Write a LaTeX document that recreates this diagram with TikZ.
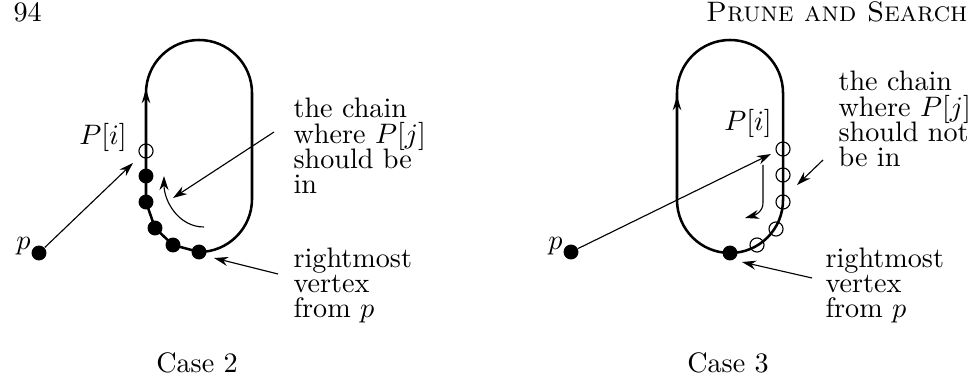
\documentclass[tikz,border=0pt]{standalone}
\usetikzlibrary{arrows.meta}
\newcommand\lblfont{\fontsize{10}{9}\selectfont\lineskiplimit=-20pt\relax}
\begin{document}
\begin{tikzpicture}[x=0.355pt,y=-0.355pt,
  hull/.style={line width=0.9pt},
  fdot/.style={circle,fill=black,inner sep=0pt,minimum size=5.3pt},
  odot/.style={circle,draw=black,line width=0.4pt,inner sep=0pt,minimum size=5pt},
  ptr/.style={line width=0.4pt,-{Stealth[length=5pt,width=3.2pt]}},
  dirmark/.style={line width=0.9pt,-{Stealth[length=5pt,width=3pt]}},
  lbl/.style={inner sep=0pt,align=left,anchor=base west,font=\lblfont},
  txt/.style={inner sep=0pt}]
\useasboundingbox (0,0) rectangle (974,377);
% header
\node[txt,anchor=base west] (pg) at (13,22) {94};
\node[txt,anchor=base east] (hd) at (968,22) {\textsc{Prune and Search}};

% ===== Case 2 =====
\draw[hull] (146,202) -- (146,93) arc[start angle=180,end angle=360,radius=53]
  -- (252,199) arc[start angle=0,end angle=90,radius=53]
  -- (173,245) -- (155,228) -- cycle;
\coordinate (m2a) at (146,115);
\coordinate (m2b) at (146,89);
\draw[dirmark] (m2a) -- (m2b);
\node[odot] (pi2) at (146,151) {};
\node[fdot] (d1) at (146,176) {};
\node[fdot] (d2) at (146,202) {};
\node[fdot] (d3) at (155,228) {};
\node[fdot] (d4) at (173,245) {};
\node[fdot] (d5) at (199,252) {};
\node[fdot] (p2) at (39,253) {};
\node[txt,anchor=east] (p2l) at (31,246) {$p$};
\node[txt] (pil2) at (103,137) {$P[i]$};
\coordinate (a2e) at (133,163);
\draw[ptr] (p2) -- (a2e);
\coordinate (c2s) at (204,227);
\coordinate (c2e) at (164,176);
\draw[ptr] (c2s) to[out=180,in=-90] (c2e);
% anchor = baseline of the last line
\node[lbl] (ch2) at (293,194) {the chain\\where $P[j]$\\should be\\in};
\coordinate (ch2s) at (274,132);
\coordinate (ch2e) at (173,198);
\draw[ptr] (ch2s) -- (ch2e);
\node[lbl] (rm2) at (293,318) {rightmost\\vertex\\from $p$};
\coordinate (rm2s) at (278,274);
\coordinate (rm2e) at (214,258);
\draw[ptr] (rm2s) -- (rm2e);
\node[txt,anchor=base] (cs2) at (197,372) {Case 2};

% ===== Case 3 =====
\draw[hull] (677,93) -- (677,200) arc[start angle=180,end angle=0,radius=53]
  -- (783,93) arc[start angle=0,end angle=-180,radius=53] -- cycle;
\coordinate (m3a) at (677,122);
\coordinate (m3b) at (677,96);
\draw[dirmark] (m3a) -- (m3b);
\node[fdot] (r0) at (730,253) {};
\node[odot] (o1) at (783,149) {};
\node[odot] (o2) at (783,175) {};
\node[odot] (o3) at (783,202) {};
\node[odot] (o4) at (776,229) {};
\node[odot] (o5) at (757,245) {};
\node[fdot] (p3) at (571,252) {};
\node[txt,anchor=east] (p3l) at (563,246) {$p$};
\node[txt] (pil3) at (748,123) {$P[i]$};
\coordinate (a3e) at (771,154);
\draw[ptr] (p3) -- (a3e);
\coordinate (h3s) at (763,165);
\coordinate (h3m) at (763,203);
\coordinate (h3e) at (745,218);
\draw[ptr] (h3s) -- (h3m) to[out=-90,in=15] (h3e);
\node[lbl] (ch3) at (838,167) {the chain\\where $P[j]$\\should not\\be in};
\coordinate (ch3s) at (823,160);
\coordinate (ch3e) at (797,185);
\draw[ptr] (ch3s) -- (ch3e);
\node[lbl] (rm3) at (825,318) {rightmost\\vertex\\from $p$};
\coordinate (rm3s) at (812,278);
\coordinate (rm3e) at (742,262);
\draw[ptr] (rm3s) -- (rm3e);
\node[txt,anchor=base] (cs3) at (728,372) {Case 3};
\end{tikzpicture}
\end{document}
